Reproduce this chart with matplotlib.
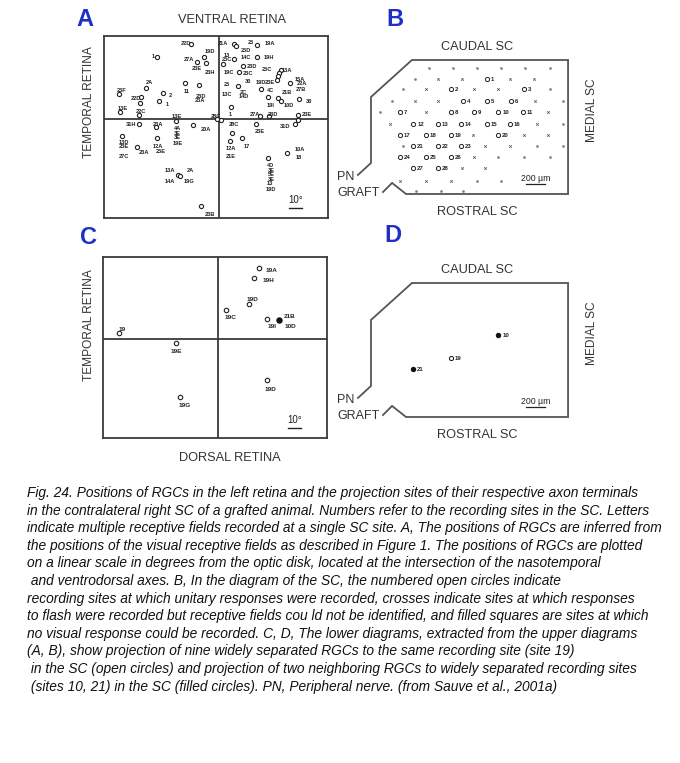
import matplotlib
matplotlib.use("Agg")
import matplotlib.pyplot as plt

plt.rcParams['font.family'] = ['Liberation Sans', 'DejaVu Sans']

W, H = 680, 763

# ---- Panel A: receptive field positions (degrees from optic disk) ----
a_circ_x = [-22, -48, -12, -17, -10, -26, -16, -56, -77, -60, -43, -46, -61, -76, -62, -2, 1,
            -62, -49, -33, -20, -75, -48, -63, -32, -30, -14,
            28, 10, 8, 17, 52, 37, 58, 60,
            11, 13, 29, 11, 29, 3, 18, 15, 47, 46, 45, 44, 54, 14, 32, 37, 45, 47, 61, 9, 38, 31, 60]
a_circ_y = [58, 48, 48, 44, 43, 28, 26, 24, 19, 17, 20, 14, 12, 5, 3, 0, -1,
            -4, -6, -2, -5, -13, -15, -22, -43, -44, -67,
            -4, -11, -17, -15, -26, -30, -4, -0.5,
            58, 56, 57, 46, 48, 42, 41, 36, 38, 35, 33, 30, 28, 25, 23, 17, 16, 14, 15, 9, 2, 2, 3]
a_lab_x = [-26, -51, -7, -23, -17, -7, -25, -54, -75, -64, -38, -40, -14, -15, -74, -60, -33, -3,
           -68, -47, -32, -32, -32, -32, -10, -73, -73, -58, -73, -47, -45, -38, -22.5, -38, -23, -7,
           11, 31, 50, 9, 21, 9, 62, 61, 39, 39.5, 39.5, 39.5, 38.5, 39.5,
           2.6, 24, 38.5, 20, 5.6, 5.6, 20, 37.7, 25, 36.4, 22, 7, 52, 22, 32, 39, 62, 63,
           5.6, 39, 52, 62.5, 5.6, 18.5, 18.5, 68.5, 39, 53, 8.7, 27.4, 41, 66.7]
a_lab_y = [58, 48, 52, 46, 39, 36, 21, 28, 22, 16, 18, 11, 17, 14, 8, 6, 1.5, 1.5,
           -4, -4, -7.5, -11, -14.5, -19, -8, -18, -21.5, -26, -29, -21.5, -25, -40, -40, -48, -48.5, -73.5,
           -4.4, -10, -6, -23, -21.5, -29, -23.6, -30, -36, -39.5, -43, -46.5, -50, -54,
           58, 58.5, 58, 53, 49, 45.6, 47, 47, 40.5, 38, 35, 35.4, 37.4, 29, 28, 28, 30, 27,
           26.4, 22, 20, 22.5, 18.7, 20.5, 17.4, 13.6, 10, 10, 3.3, 3.3, 3.3, 3.3]
a_lab_txt = ['22D', '1', '19D', '27A', '23E', '23H', '11', '2A', '25F', '22D', '2', '1', '23D', '23A', '13E', '22C', '13E', '28C',
             '31H', '23A', '4A', '3E', '3E', '19E', '20A', '13D', '23E', '23A', '27C', '12A', '25E', '13A', '2A', '14A', '19G', '23B',
             '28C', '23E', '31D', '12A', '17', '21E', '10A', '18', '4D', '3E', '5E', '3E', '13', '19D',
             '21A', '25', '19A', '25D', '13', '25C', '14C', '19H', '23D', '25C', '23C', '19C', '13A', '30', '19D', '23E', '15A', '22A',
             '25', '4C', '21B', '27B', '13C', '2C', '14D', '30', '19I', '10D', '1', '27A', '23D', '23E']

# ---- Panel C: RGCs projecting to site 19 (open) and sites 10, 21 (filled) ----
c_circ_x = [31.3, 27.4, 23.6, 5.6, 37.2, -76.2, -32.8, 37.2, -29.5]
c_circ_y = [55.6, 47.4, 27.4, 23.0, 15.9, 4.9, -2.6, -31.5, -44.4]
c_fill_x = [46.2]
c_fill_y = [15.1]
c_lab_x = [41, 38.5, 26.4, 9, 41, 54.6, 55, -73.6, -32, 39.7, -25.6]
c_lab_y = [53.6, 45.4, 30.8, 17.2, 10.3, 18, 10.3, 7.4, -9.2, -38.7, -50.8]
c_lab_txt = ['19A', '19H', '19D', '19C', '19I', '21B', '10D', '19', '19E', '19D', '19G']

# ---- Panel B: SC recording sites (micrometres) ----
sc_outline_x = [-137, 0, 0, 430, 2069, 2069, 368, 221, 126]
sc_outline_y = [200, 326, 1019, 1407, 1407, 0, 0, 116, 21]

b_site_num = list(range(1, 29))
b_site_x = [1215, 840, 1607, 963, 1215, 1467, 305, 840, 1085, 1338, 1593, 445, 700, 945,
            1215, 1460, 305, 578, 840, 1338, 445, 700, 945, 305, 578, 840, 445, 700]
b_site_y = [1208, 1100, 1100, 980, 980, 980, 865, 865, 865, 865, 865, 732, 732, 732,
            732, 732, 620, 620, 620, 620, 508, 508, 508, 392, 392, 392, 270, 270]
b_cross_x = [707, 960, 1460, 1712, 578, 1082, 1330, 462, 707, 1722, 578, 1862, 200, 1740,
             1068, 1607, 1862, 1198, 1460, 1082, 952, 1198, 305, 578, 840]
b_cross_y = [1208, 1208, 1208, 1208, 1100, 1100, 1100, 980, 980, 980, 865, 865, 732, 732,
             620, 620, 620, 508, 508, 392, 270, 270, 137, 137, 137]
b_dot_x = [613, 865, 1117, 1362, 1618, 1880, 462, 340, 1880, 225, 2020, 95, 2020, 340, 1740,
           2020, 1338, 1607, 1880, 1110, 1362, 473, 735, 967]
b_dot_y = [1320, 1320, 1320, 1320, 1320, 1320, 1208, 1100, 1100, 980, 980, 865, 732, 508, 508,
           508, 392, 392, 392, 137, 137, 32, 32, 32]

# ---- Panel D: sites shown in lower diagram ----
d_sites = [10, 19, 21]
d_filled = [True, False, True]

caption = [
    "Fig. 24. Positions of RGCs in the left retina and the projection sites of their respective axon terminals",
    "in the contralateral right SC of a grafted animal. Numbers refer to the recording sites in the SC. Letters",
    "indicate multiple receptive fields recorded at a single SC site. A, The positions of RGCs are inferred from",
    "the positions of the visual receptive fields as described in Figure 1. The positions of RGCs are plotted",
    "on a linear scale in degrees from the optic disk, located at the intersection of the nasotemporal",
    " and ventrodorsal axes. B, In the diagram of the SC, the numbered open circles indicate",
    "recording sites at which unitary responses were recorded, crosses indicate sites at which responses",
    "to flash were recorded but receptive fields cou ld not be identified, and filled squares are sites at which",
    "no visual response could be recorded. C, D, The lower diagrams, extracted from the upper diagrams",
    "(A, B), show projection of nine widely separated RGCs to the same recording site (site 19)",
    " in the SC (open circles) and projection of two neighboring RGCs to widely separated recording sites",
    " (sites 10, 21) in the SC (filled circles). PN, Peripheral nerve. (from Sauve et al., 2001a)",
]

LINE = '#3a3a3a'
BLUE = '#1f30c8'

fig = plt.figure(figsize=(W / 100, H / 100), dpi=100)


def px_axes(x0, y0, x1, y1):
    # axes covering a pixel rectangle of the figure
    return fig.add_axes([x0 / W, 1 - y1 / H, (x1 - x0) / W, (y1 - y0) / H])


def ftext(px, py, s, **kw):
    fig.text(px / W, 1 - py / H, s, **kw)


def retina_panel(ax):
    ax.set_xlim(-88.5, 83.3)
    ax.set_ylim(-76.3, 63.8)
    ax.set_xticks([])
    ax.set_yticks([])
    for sp in ax.spines.values():
        sp.set_color(LINE)
        sp.set_linewidth(1.3)
    ax.axhline(0, color=LINE, lw=1.3)
    ax.axvline(0, color=LINE, lw=1.3)
    # 10 degree scale bar
    ax.plot([53.5, 63.5], [-68.5, -68.5], color='#222', lw=1.0)
    ax.text(58.5, -66, '10°', fontsize=7, ha='center', va='bottom', color='#222')


def sc_panel(ax):
    ax.set_xlim(-325.5, 2404.5)
    ax.set_ylim(-220.5, 1617)
    ax.axis('off')
    ax.plot(sc_outline_x, sc_outline_y, color='#555555', lw=1.3, solid_joinstyle='miter')
    ax.plot([1625, 1827], [102, 102], color='#222', lw=0.9)
    ax.text(1726, 112, '200 µm', fontsize=6.3, ha='center', va='bottom', color='#222')


# Panel A
axA = px_axes(104, 36, 328, 218)
retina_panel(axA)
axA.plot(a_circ_x, a_circ_y, 'o', ms=3.0, mfc='white', mec='#222', mew=0.8)
for x, y, t in zip(a_lab_x, a_lab_y, a_lab_txt):
    axA.text(x, y, t, fontsize=4.1, fontweight='bold', ha='center', va='center', color='#222')

# Panel C
axC = px_axes(103, 257, 327, 438)
retina_panel(axC)
axC.plot(c_circ_x, c_circ_y, 'o', ms=3.2, mfc='white', mec='#222', mew=0.8)
axC.plot(c_fill_x, c_fill_y, 'o', ms=3.6, color='#111')
for x, y, t in zip(c_lab_x, c_lab_y, c_lab_txt):
    axC.text(x, y, t, fontsize=4.6, fontweight='bold', ha='center', va='center', color='#222')

# Panel B
axB = px_axes(340, 40, 600, 215)
sc_panel(axB)
axB.plot(b_dot_x, b_dot_y, 'o', ms=1.0, color='#888')
axB.plot(b_cross_x, b_cross_y, 'x', ms=1.8, mew=0.55, color='#555')
axB.plot(b_site_x, b_site_y, 'o', ms=3.0, mfc='white', mec='#222', mew=0.7)
for n, x, y in zip(b_site_num, b_site_x, b_site_y):
    axB.annotate(str(n), (x, y), xytext=(2.8, -0.5), textcoords='offset points',
                 fontsize=4.3, fontweight='bold', ha='left', va='center', color='#222')

# Panel D
axD = px_axes(340, 263, 600, 438)
sc_panel(axD)
for n, filled in zip(d_sites, d_filled):
    i = b_site_num.index(n)
    axD.plot(b_site_x[i], b_site_y[i], 'o', ms=3.2 if filled else 3.0,
             mfc='#111' if filled else 'white', mec='#111', mew=0.7)
    axD.annotate(str(n), (b_site_x[i], b_site_y[i]), xytext=(2.8, -0.5), textcoords='offset points',
                 fontsize=4.3, fontweight='bold', ha='left', va='center', color='#222')

# panel letters
for x, y, s in [(85, 20, 'A'), (395, 20, 'B'), (88, 237, 'C'), (393, 235, 'D')]:
    ftext(x, y, s, fontsize=17, fontweight='bold', color=BLUE, ha='center', va='center')

# axis titles
lab = dict(fontsize=9.2, color='#333', ha='center', va='center')
vlab = dict(fontsize=8.6, color='#333', ha='center', va='center', rotation=90)
ftext(232, 20, 'VENTRAL RETINA', **lab)
ftext(230, 458, 'DORSAL RETINA', **lab)
ftext(89, 102, 'TEMPORAL RETINA', **vlab)
ftext(89, 325, 'TEMPORAL RETINA', **vlab)
for dy in [0, 223]:
    ftext(477, 47 + dy, 'CAUDAL SC', **lab)
    ftext(477, 212 + dy, 'ROSTRAL SC', **lab)
    ftext(592, 110 + dy, 'MEDIAL SC', **vlab)
    ftext(337, 177 + dy, 'PN', fontsize=9, color='#333', ha='left', va='center')
    ftext(337, 193 + dy, 'GRAFT', fontsize=9, color='#333', ha='left', va='center')

# caption
for i, line in enumerate(caption):
    ftext(27, 493 + i * 17.6, line, fontsize=9.9, style='italic', ha='left', va='center', color='#111')

fig.savefig('out.png', dpi=100, facecolor='white')
